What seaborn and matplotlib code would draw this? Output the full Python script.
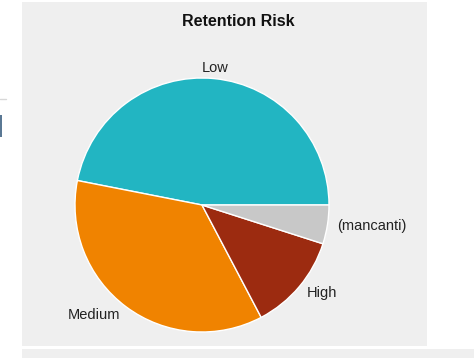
import math
import matplotlib
matplotlib.use("Agg")
import matplotlib.pyplot as plt
from matplotlib.patches import Rectangle
import seaborn as sns

# Retention risk breakdown (counts per class)
categories = ["Low", "Medium", "High", "(mancanti)"]
counts = [38, 29, 10, 4]
slice_colors = ["#22b5c2", "#f08300", "#9c2b10", "#c8c8c8"]
title = "Retention Risk"

sns.set_theme(style="white")
plt.rcParams["font.family"] = ["Liberation Sans", "DejaVu Sans"]

W, H = 474, 358
fig = plt.figure(figsize=(W / 100, H / 100), dpi=100)
fig.patch.set_facecolor("white")
ax = fig.add_axes([0, 0, 1, 1])

# surrounding page panels
ax.add_patch(Rectangle((22, 12), 405, 344, facecolor="#efefef", edgecolor="none", zorder=0))
ax.add_patch(Rectangle((22, 0), 452, 9, facecolor="#efefef", edgecolor="none", zorder=0))
ax.plot([0, 6], [259, 259], color="#d8d8d8", lw=1, zorder=0)
ax.add_patch(Rectangle((0, 221), 2, 22, facecolor="#5a7894", edgecolor="none", zorder=0))

wedges, texts = ax.pie(
    counts,
    labels=categories,
    colors=sns.color_palette(slice_colors),
    startangle=0,
    counterclock=True,
    center=(202, 153),
    radius=127,
    labeldistance=1.08,
    wedgeprops=dict(edgecolor="white", linewidth=1),
    textprops=dict(fontsize=10.5, color="#222222"),
)

# align each label away from the pie relative to its own wedge direction
for w, t in zip(wedges, texts):
    mid = math.radians((w.theta1 + w.theta2) / 2)
    c = math.cos(mid)
    if abs(c) < 0.15:
        t.set_horizontalalignment("center")
    else:
        t.set_horizontalalignment("left" if c > 0 else "right")

ax.text(238, 337, title, ha="center", va="center", fontsize=11.5,
        fontweight="bold", color="#111111")

ax.set_xlim(0, W)
ax.set_ylim(0, H)
ax.set_aspect("equal")
ax.axis("off")
fig.savefig("out.png", dpi=100)
